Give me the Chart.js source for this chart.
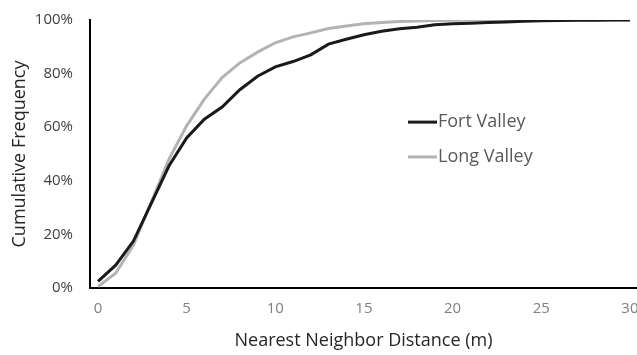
<!DOCTYPE html>
<html>
<head>
<meta charset="utf-8">
<script src="https://cdn.jsdelivr.net/npm/chart.js@4"></script>
<style>
  html, body { margin: 0; padding: 0; background: #fff; }
  #wrap { width: 637px; height: 355px; }
</style>
</head>
<body>
<div id="wrap"><canvas id="myChart"></canvas></div>
<script>
const ctx = document.getElementById("myChart");

// distance (m), one point per metre
const distances = [0, 1, 2, 3, 4, 5, 6, 7, 8, 9, 10, 11, 12, 13, 14, 15,
  16, 17, 18, 19, 20, 21, 22, 23, 24, 25, 26, 27, 28, 29, 30];

const fortValley = [2.5, 8.5, 17.5, 31.5, 45.5, 56, 63, 67.5, 74, 79, 82.5,
  84.5, 87, 91, 92.8, 94.5, 95.8, 96.7, 97.3, 98.2, 98.6, 98.8, 99.1, 99.3,
  99.5, 99.7, 99.8, 99.9, 99.9, 100, 100];

const longValley = [0.5, 5.5, 16, 32, 48, 60.5, 70.5, 78.5, 84, 88, 91.5,
  93.7, 95.2, 96.8, 97.8, 98.6, 99.1, 99.4, 99.6, 99.8, 99.9, 100, 100, 100,
  100, 100, 100, 100, 100, 100, 100];

const xTicks = [0, 5, 10, 15, 20, 25, 30];
const yTicks = [0, 20, 40, 60, 80, 100];

const font = "Open Sans";

function points(values) {
  return distances.map(function (d, i) {
    return { x: d, y: values[i] };
  });
}

// legend drawn inside the plot, like the original
const innerLegend = {
  id: "innerLegend",
  afterDatasetsDraw(chart) {
    const c = chart.ctx;
    const area = chart.chartArea;
    const rows = [0.381, 0.511];
    c.save();
    c.font = "18px " + font;
    c.textBaseline = "middle";
    chart.data.datasets.forEach(function (ds, i) {
      const y = area.top + (area.bottom - area.top) * rows[i];
      const x = 408;
      c.strokeStyle = ds.borderColor;
      c.lineWidth = 3;
      c.beginPath();
      c.moveTo(x, y);
      c.lineTo(x + 29, y);
      c.stroke();
      c.fillStyle = "#595959";
      c.fillText(ds.label, x + 30, y);
    });
    c.restore();
  },
};

new Chart(ctx, {
  type: "line",
  data: {
    datasets: [
      {
        label: "Fort Valley",
        data: points(fortValley),
        borderColor: "#1a1a1a",
        borderWidth: 3,
        pointRadius: 0,
        tension: 0,
      },
      {
        label: "Long Valley",
        data: points(longValley),
        borderColor: "#b3b3b3",
        borderWidth: 3,
        pointRadius: 0,
        tension: 0,
      },
    ],
  },
  options: {
    responsive: true,
    maintainAspectRatio: false,
    animation: false,
    layout: { padding: { top: 20, right: 0, left: 0, bottom: 0 } },
    plugins: {
      legend: { display: false },
      tooltip: { enabled: false },
    },
    scales: {
      x: {
        type: "linear",
        min: -0.45,
        max: 30.4,
        afterBuildTicks: function (scale) {
          scale.ticks = xTicks.map(function (v) { return { value: v }; });
        },
        afterFit: function (scale) {
          scale.height = 67;
          scale.paddingRight = 0;
          scale.paddingLeft = 0;
        },
        grid: { display: false, drawTicks: false },
        border: { display: true, color: "#000", width: 2 },
        ticks: {
          color: "#808080",
          font: { family: font, size: 15 },
          padding: 12,
          maxRotation: 0,
        },
        title: {
          display: true,
          text: "Nearest Neighbor Distance (m)",
          color: "#262626",
          font: { family: font, size: 18 },
          padding: { top: 0, bottom: 3 },
        },
      },
      y: {
        min: 0,
        max: 100,
        afterBuildTicks: function (scale) {
          scale.ticks = yTicks.map(function (v) { return { value: v }; });
        },
        afterFit: function (scale) {
          scale.width = 90;
          scale.paddingTop = 0;
          scale.paddingBottom = 0;
        },
        grid: { display: false, drawTicks: false },
        border: { display: true, color: "#000", width: 2 },
        ticks: {
          color: "#404040",
          font: { family: font, size: 15 },
          padding: 17,
          callback: function (v) { return v + "%"; },
        },
        title: {
          display: true,
          text: "Cumulative Frequency",
          color: "#262626",
          font: { family: font, size: 18 },
          padding: { top: 9, bottom: 0 },
        },
      },
    },
  },
  plugins: [innerLegend],
});
</script>
</body>
</html>
